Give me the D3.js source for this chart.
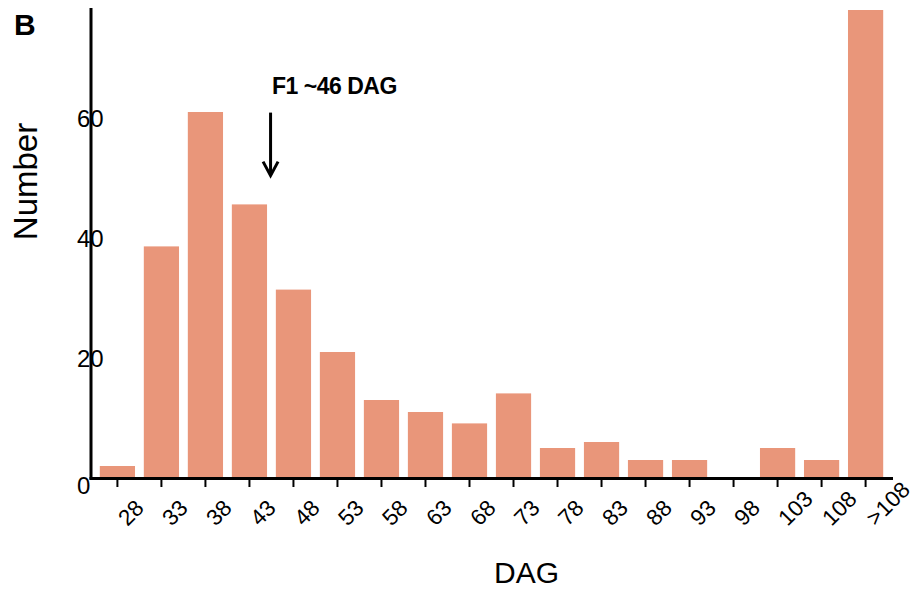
<!DOCTYPE html>
<html>
<head>
<meta charset="utf-8">
<script src="https://cdn.jsdelivr.net/npm/d3@7"></script>
<style>
  body { margin: 0; background: #fff; }
  svg { display: block; font-family: 'Liberation Sans', Arial, sans-serif; }
</style>
</head>
<body>
<div id="chart"></div>
<script>
var dag_labels = ['28', '33', '38', '43', '48', '53', '58', '63', '68', '73', '78', '83', '88', '93', '98', '103', '108', '>108'];
var counts = [2, 38.6, 61, 45.6, 31.4, 21, 13, 11, 9.1, 14.1, 5, 6, 3, 3, 0, 5, 3, 78];
var y_ticks = [0, 20, 40, 60];
var y_max = 78;
// arrow for F1 at ~46 DAG, in data units (x is DAG, y is count)
var arrow_dag = 45.4;
var arrow_top = 60.9;
var arrow_tip = 50.4;
var arrow_text = 'F1 ~46 DAG';

function DagPlotter() {
  this._width = 912;
  this._height = 589;
  this._left = 91;
  this._right = 892;
  this._top = 10;
  this._bottom = 478;
  this._bar_colour = '#E9967A';
}

DagPlotter.prototype._dag_to_x = function(x, dag) {
  // categories step by 5 DAG, so map a DAG value between band centres
  let c0 = x(dag_labels[0]) + x.bandwidth() / 2;
  let c1 = x(dag_labels[1]) + x.bandwidth() / 2;
  return c0 + (dag - (+dag_labels[0])) / 5 * (c1 - c0);
}

DagPlotter.prototype.plot = function(container) {
  let self = this;
  let svg = d3.select(container).append('svg:svg')
    .attr('width', this._width)
    .attr('height', this._height);

  let x = d3.scaleBand()
    .domain(dag_labels)
    .range([this._left, this._right])
    .paddingInner(0.2)
    .paddingOuter(0.2);

  let y = d3.scaleLinear()
    .domain([0, y_max])
    .range([this._bottom, this._top]);

  svg.append('svg:g')
    .selectAll('rect')
    .data(counts)
    .join('svg:rect')
    .attr('x', function(d, i) { return x(dag_labels[i]); })
    .attr('y', function(d) { return y(d); })
    .attr('width', x.bandwidth())
    .attr('height', function(d) { return y(0) - y(d); })
    .attr('fill', this._bar_colour);

  // axes lines
  svg.append('svg:line')
    .attr('x1', this._left).attr('x2', this._left)
    .attr('y1', 8).attr('y2', this._bottom + 1.5)
    .attr('stroke', '#000').attr('stroke-width', 3);
  svg.append('svg:line')
    .attr('x1', this._left - 1.5).attr('x2', this._right + 1)
    .attr('y1', this._bottom + 0.5).attr('y2', this._bottom + 0.5)
    .attr('stroke', '#000').attr('stroke-width', 3);

  // x ticks and rotated labels
  let xt = svg.append('svg:g')
    .selectAll('g')
    .data(dag_labels)
    .join('svg:g')
    .attr('transform', function(d) { return 'translate(' + (x(d) + x.bandwidth() / 2) + ',0)'; });
  xt.append('svg:line')
    .attr('x1', 0).attr('x2', 0)
    .attr('y1', this._bottom).attr('y2', this._bottom + 9)
    .attr('stroke', '#000').attr('stroke-width', 2);
  xt.append('svg:text')
    .attr('transform', 'translate(10,527) rotate(-45)')
    .attr('font-size', '22.5px')
    .attr('text-anchor', 'start')
    .text(function(d) { return d; });

  // y tick labels sit over the axis line
  svg.append('svg:g')
    .selectAll('text')
    .data(y_ticks)
    .join('svg:text')
    .attr('x', 77)
    .attr('y', function(d) { return y(d) + (d === 0 ? 7 : 0); })
    .attr('dy', '0.36em')
    .attr('font-size', '24px')
    .text(function(d) { return d; });

  svg.append('svg:text')
    .attr('transform', 'translate(37,181.5) rotate(-90)')
    .attr('text-anchor', 'middle')
    .attr('font-size', '33px')
    .text('Number');

  svg.append('svg:text')
    .attr('x', 526.5)
    .attr('y', 583)
    .attr('text-anchor', 'middle')
    .attr('font-size', '30px')
    .text('DAG');

  svg.append('svg:text')
    .attr('x', 14)
    .attr('y', 35)
    .attr('font-size', '30px')
    .attr('font-weight', 'bold')
    .text('B');

  // annotation arrow
  let ax = this._dag_to_x(x, arrow_dag);
  let ytip = y(arrow_tip);
  svg.append('svg:line')
    .attr('x1', ax).attr('x2', ax)
    .attr('y1', y(arrow_top)).attr('y2', ytip - 1)
    .attr('stroke', '#000').attr('stroke-width', 3);
  svg.append('svg:path')
    .attr('d', 'M' + (ax - 7.5) + ',' + (ytip - 14) + 'L' + ax + ',' + ytip + 'L' + (ax + 7.5) + ',' + (ytip - 14))
    .attr('fill', 'none')
    .attr('stroke', '#000')
    .attr('stroke-width', 3);
  svg.append('svg:text')
    .attr('x', ax + 1.5)
    .attr('y', 94)
    .attr('font-size', '23px')
    .attr('font-weight', 'bold')
    .attr('letter-spacing', '-0.5px')
    .text(arrow_text);
}

new DagPlotter().plot('#chart');
</script>
</body>
</html>
